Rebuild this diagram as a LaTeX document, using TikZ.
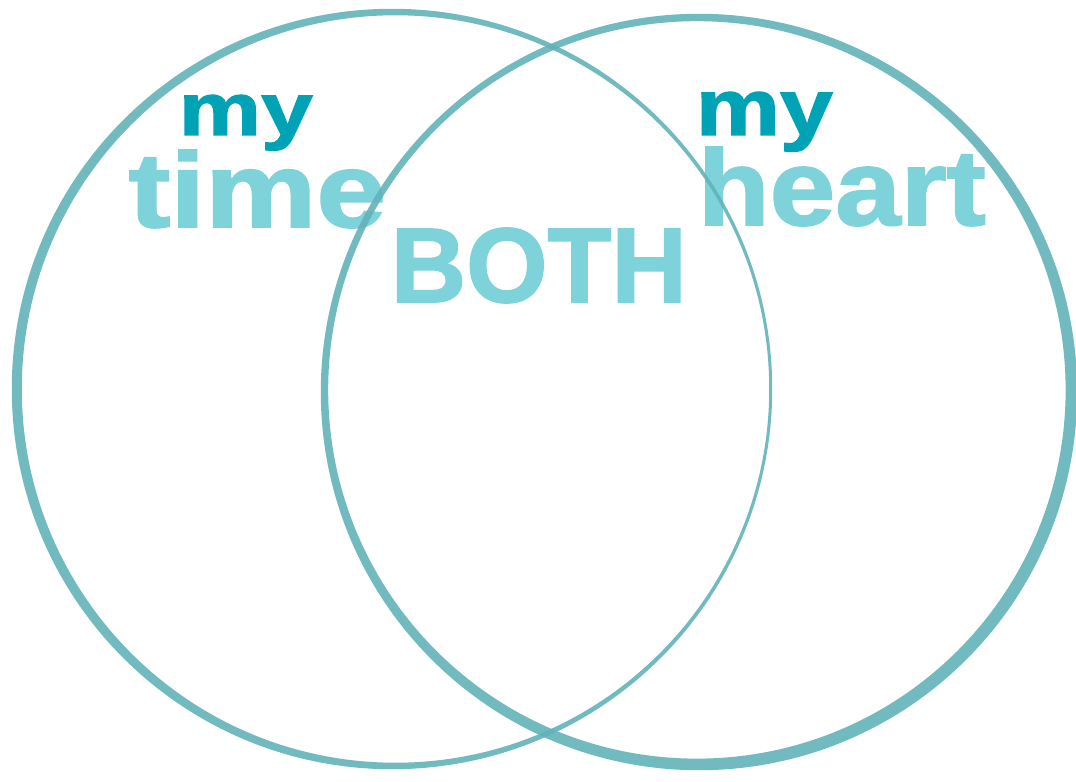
\documentclass[tikz,border=0pt]{standalone}
\usepackage{fontspec}
\setmainfont{Liberation Sans}
\newfontfamily\heavyfont[FakeBold=1.6]{Liberation Sans Bold}
\definecolor{ringteal}{HTML}{62B3BA}
\definecolor{darkteal}{HTML}{00A3B5}
\definecolor{lightteal}{HTML}{7ED2DA}
\tikzset{
  ring/.style={fill=ringteal, fill opacity=0.9, even odd rule},
  word/.style={inner sep=0pt, anchor=base west, font=\heavyfont},
}
\begin{document}
\begin{tikzpicture}[x=0.01cm, y=-0.01cm]
\useasboundingbox[fill=white] (0,0) rectangle (1076,782);
% words
\node[word, text=darkteal] (mytime) at (178,135) {\resizebox{1.34cm}{0.40cm}{my}};
\node[word, text=lightteal] (time) at (128,227) {\resizebox{2.57cm}{0.77cm}{time}};
\node[word, text=darkteal] (myheart) at (695,135) {\resizebox{1.37cm}{0.43cm}{my}};
\node[word, text=lightteal] (heart) at (697,225) {\resizebox{2.88cm}{0.78cm}{heart}};
\node[word, text=lightteal] (both) at (390,302) {\resizebox{2.96cm}{0.74cm}{BOTH}};
% rings
\coordinate (lc) at (392,389);
\coordinate (rc) at (699,392);
\fill[ring] (lc) circle (3.8cm) ([shift={(3.5,0)}]lc) circle (3.735cm);
\fill[ring] (rc) circle (3.78cm) ([shift={(-2.1,-2.1)}]rc) circle (3.685cm);
\end{tikzpicture}
\end{document}
